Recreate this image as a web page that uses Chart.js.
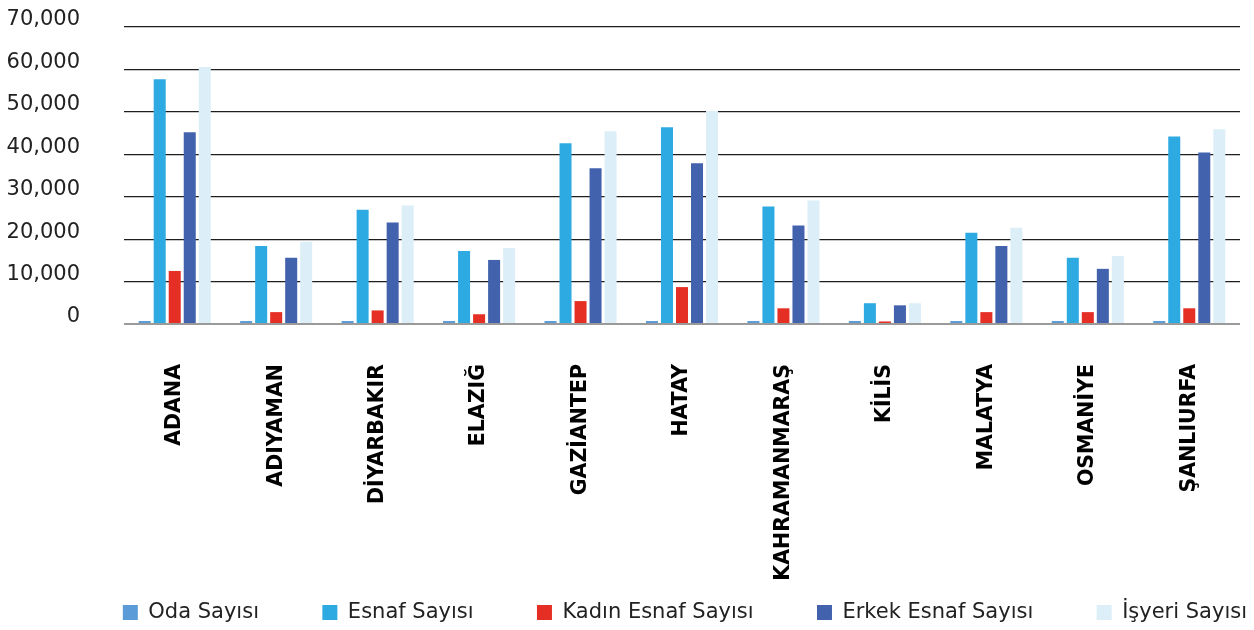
<!DOCTYPE html>
<html>
<head>
<meta charset="utf-8">
<script src="https://cdn.jsdelivr.net/npm/chart.js@4/dist/chart.umd.min.js"></script>
<style>
  html, body { margin: 0; padding: 0; background: #fff; }
  #wrap { width: 1254px; height: 630px; }
</style>
</head>
<body>
<div id="wrap"><canvas id="barChart"></canvas></div>
<script>
var cities = ['ADANA', 'ADIYAMAN', 'DİYARBAKIR', 'ELAZIĞ', 'GAZİANTEP', 'HATAY',
              'KAHRAMANMARAŞ', 'KİLİS', 'MALATYA', 'OSMANİYE', 'ŞANLIURFA'];
var odaSayisi   = [700, 700, 700, 700, 700, 700, 700, 700, 700, 700, 700];
var esnafSayisi = [57700, 18400, 26900, 17200, 42600, 46400, 27700, 4900, 21500, 15600, 44200];
var kadinEsnaf  = [12500, 2800, 3200, 2300, 5400, 8700, 3700, 600, 2800, 2800, 3700];
var erkekEsnaf  = [45200, 15600, 23900, 15100, 36700, 37900, 23200, 4400, 18400, 13000, 40400];
var isyeri      = [60600, 19400, 27900, 17900, 45400, 50200, 29100, 4900, 22700, 16000, 45900];
var yTicks = [0, 10000, 20000, 30000, 40000, 50000, 60000, 70000];

var labelFont = 'DejaVu Sans';
// extra room after each legend entry (the last one stays flush right)
var legendGap = '        ';

// nudge the legend a little right/down so it lines up with the original
var legendShift = {
    id: 'legendShift',
    afterLayout: function(chart) {
        var lg = chart.legend;
        if (!lg) return;
        lg.left += 17; lg.right += 17;
        lg.top += 3; lg.bottom += 3;
    }
};

var barCanvas = document.getElementById('barChart');
var barChart = new Chart(barCanvas, {
    type: 'bar',
    data: {
        labels: cities,
        datasets: [
            { label: 'Oda Sayısı', data: odaSayisi, backgroundColor: '#5B9BD8' },
            { label: 'Esnaf Sayısı', data: esnafSayisi, backgroundColor: '#2EAAE2' },
            { label: 'Kadın Esnaf Sayısı', data: kadinEsnaf, backgroundColor: '#E52F25' },
            { label: 'Erkek Esnaf Sayısı', data: erkekEsnaf, backgroundColor: '#4262AD' },
            { label: 'İşyeri Sayısı', data: isyeri, backgroundColor: '#DCEEF8' }
        ]
    },
    plugins: [legendShift],
    options: {
        responsive: true,
        maintainAspectRatio: false,
        animation: false,
        datasets: {
            bar: { categoryPercentage: 0.74, barPercentage: 0.8 }
        },
        layout: { padding: { left: 0, right: 14, top: 27, bottom: 0 } },
        plugins: {
            tooltip: { enabled: false },
            legend: {
                position: 'bottom',
                align: 'end',
                labels: {
                    boxWidth: 15,
                    boxHeight: 15,
                    padding: 10,
                    color: '#222',
                    font: { family: labelFont, size: 21 },
                    generateLabels: function(chart) {
                        var items = Chart.defaults.plugins.legend.labels.generateLabels(chart);
                        items.forEach(function(it, i) {
                            if (i < items.length - 1) it.text = it.text + legendGap;
                        });
                        return items;
                    }
                }
            }
        },
        scales: {
            x: {
                grid: { display: false, drawTicks: false },
                border: { display: false },
                afterFit: function(scale) {
                    scale.height = 265;
                    scale.paddingLeft = 0;
                    scale.paddingRight = 0;
                },
                ticks: {
                    minRotation: 90,
                    maxRotation: 90,
                    padding: 40,
                    autoSkip: false,
                    color: '#000',
                    font: { family: labelFont, size: 20.5, weight: 'bold' }
                }
            },
            y: {
                min: 0,
                max: 70000,
                afterBuildTicks: function(axis) {
                    axis.ticks = yTicks.map(function(v){ return { value: v }; });
                },
                afterFit: function(scale) {
                    scale.width = 124;
                    scale.paddingTop = 0;
                    scale.paddingBottom = 0;
                },
                border: { display: false },
                grid: {
                    drawTicks: false,
                    color: function(ctx) { return ctx.tick && ctx.tick.value === 0 ? '#9a9a9a' : '#1e1e1e'; },
                    lineWidth: function(ctx) { return ctx.tick && ctx.tick.value === 0 ? 2 : 1.2; }
                },
                ticks: {
                    padding: 44,
                    labelOffset: -7,
                    color: '#222',
                    font: { family: labelFont, size: 21 },
                    callback: function(v) { return v.toLocaleString('en-US'); }
                }
            }
        }
    }
});
</script>
</body>
</html>
